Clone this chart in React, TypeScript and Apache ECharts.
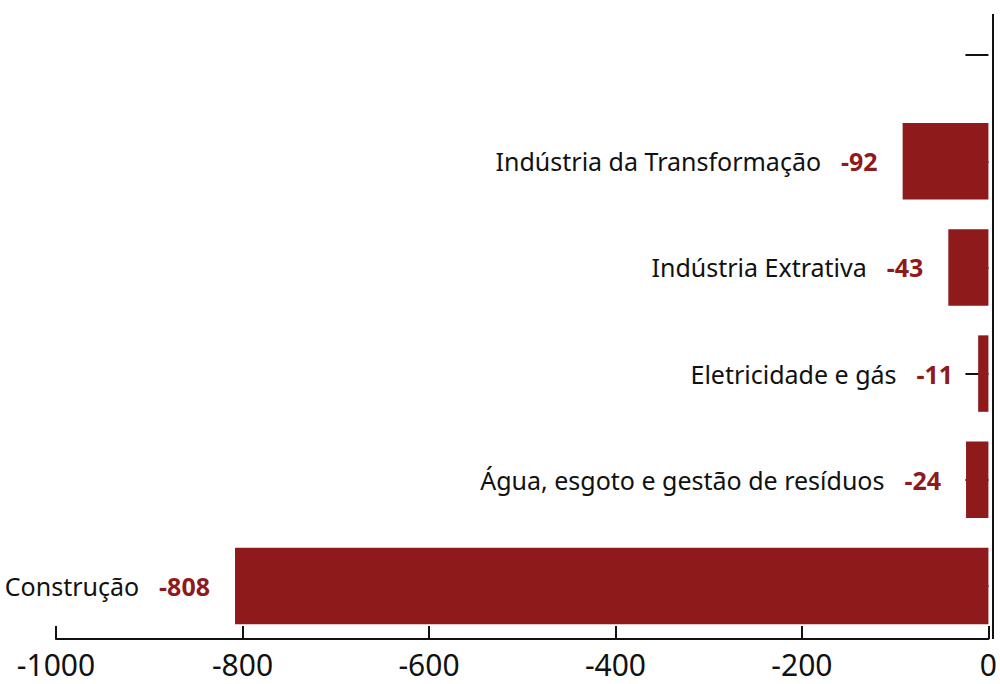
import React, { useEffect, useRef } from "react";
import * as echarts from "echarts";

const categories = [
  "",
  "Indústria da Transformação",
  "Indústria Extrativa",
  "Eletricidade e gás",
  "Água, esgoto e gestão de resíduos",
  "Construção",
];
const values: (number | null)[] = [null, -92, -43, -11, -24, -808];
const xTicks = { min: -1000, max: 0, interval: 200 };

const BAR = "#8E1A1C";
const FONT = "'Noto Sans', 'Open Sans', sans-serif";

export default function App() {
  const ref = useRef<HTMLDivElement>(null);
  useEffect(() => {
    if (!ref.current) return;
    const chart = echarts.init(ref.current, undefined, { renderer: "svg" });
    chart.setOption({
      animation: false,
      backgroundColor: "#ffffff",
      grid: { left: 56, right: 7, top: 2, bottom: 45, containLabel: false },
      xAxis: {
        type: "value",
        min: xTicks.min,
        max: xTicks.max,
        interval: xTicks.interval,
        splitLine: { show: false },
        axisLine: { show: true, lineStyle: { color: "#111", width: 2 } },
        axisTick: { show: true, inside: true, length: 13, lineStyle: { color: "#111", width: 2 } },
        axisLabel: {
          color: "#111",
          fontSize: 30,
          lineHeight: 30,
          fontFamily: FONT,
          margin: 10,
          formatter: (v: number) => String(v),
        },
      },
      yAxis: {
        type: "category",
        data: categories,
        inverse: true,
        position: "right",
        axisLine: { show: false },
        axisTick: { show: true, inside: true, alignWithLabel: true, length: 23, lineStyle: { color: "#111", width: 2 } },
        axisLabel: { show: false },
        splitLine: { show: false },
      },
      graphic: [
        {
          type: "line",
          shape: { x1: 993, y1: 14, x2: 993, y2: 639 },
          style: { stroke: "#111", lineWidth: 2 },
          z: 10,
        },
      ],
      series: [
        {
          type: "bar",
          data: values,
          barCategoryGap: "28%",
          itemStyle: { color: BAR },
          label: {
            show: true,
            position: "left",
            distance: 25,
            formatter: (p: any) => `{n|${categories[p.dataIndex]}}{v|${p.value}}`,
            rich: {
              n: { fontSize: 25, color: "#111", fontFamily: FONT, padding: [0, 20, 0, 0] },
              v: { fontSize: 25, color: BAR, fontWeight: "bold", fontFamily: FONT },
            },
          },
        },
      ],
    });
    return () => chart.dispose();
  }, []);
  return (
    <div
      ref={ref}
      style={{ position: "fixed", left: 0, top: 0, width: 1000, height: 684, background: "#fff" }}
    />
  );
}
